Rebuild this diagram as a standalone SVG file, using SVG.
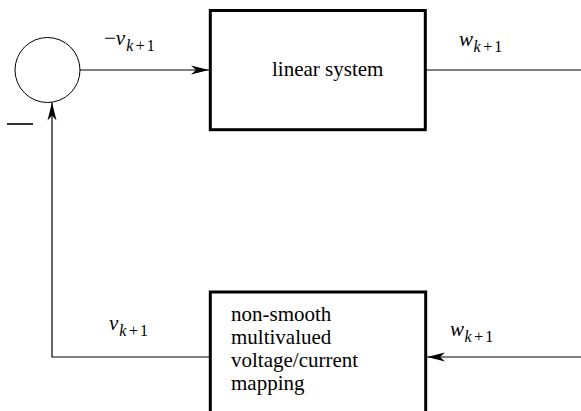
<svg xmlns="http://www.w3.org/2000/svg" width="581" height="411" viewBox="0 0 581 411">
<style>
.box{fill:#fff;stroke:#000;stroke-width:3}
.wire{fill:none;stroke:#000;stroke-width:1.2}
text{font-family:'Liberation Serif','DejaVu Serif',serif;fill:#000}
.t{font-size:21px}
.m{font-size:21px}
.i{font-style:italic}
.s{font-size:16px}
</style>
<defs>
<marker id="arr" viewBox="-18 -5 19 10" refX="0" refY="0" markerWidth="19" markerHeight="10" markerUnits="userSpaceOnUse" orient="auto">
<path d="M0,0 L-18,-4.5 L-13,0 L-18,4.5 Z" fill="#000"/>
</marker>
</defs>
<rect width="581" height="411" fill="#fff"/>
<g id="connectors">
<line class="wire" x1="80" y1="70" x2="209" y2="70" marker-end="url(#arr)"/>
<line class="wire" x1="425" y1="70" x2="581" y2="70"/>
<line class="wire" x1="581" y1="357" x2="427" y2="357" marker-end="url(#arr)"/>
<polyline class="wire" points="209,357 52,357 52,102.5" marker-end="url(#arr)"/>
</g>
<g id="sum">
<circle cx="47.5" cy="70" r="32.5" fill="none" stroke="#000" stroke-width="1"/>
<line x1="7" y1="124" x2="33" y2="124" stroke="#000" stroke-width="1.6"/>
</g>
<g id="linear-system">
<rect class="box" x="210.3" y="10.5" width="215" height="119.2"/>
<text class="t" x="272" y="76">linear system</text>
</g>
<g id="mapping">
<rect class="box" x="210.3" y="292" width="215.4" height="130"/>
<text class="t" x="231" y="321">non-smooth</text>
<text class="t" x="231" y="344">multivalued</text>
<text class="t" x="231" y="367">voltage/current</text>
<text class="t" x="231" y="390">mapping</text>
</g>
<g id="labels">
<text class="m" x="104" y="45">−<tspan class="i">v</tspan><tspan class="i s" dx="1" dy="6">k</tspan><tspan class="s" dx="2.5">+</tspan><tspan class="s" dx="2">1</tspan></text>
<text class="m" x="459" y="46"><tspan class="i">w</tspan><tspan class="i s" dx="0.5" dy="6">k</tspan><tspan class="s" dx="2.5">+</tspan><tspan class="s" dx="2">1</tspan></text>
<text class="m" x="109" y="330"><tspan class="i">v</tspan><tspan class="i s" dx="1" dy="6">k</tspan><tspan class="s" dx="2.5">+</tspan><tspan class="s" dx="2">1</tspan></text>
<text class="m" x="450" y="336"><tspan class="i">w</tspan><tspan class="i s" dx="0.5" dy="6">k</tspan><tspan class="s" dx="2.5">+</tspan><tspan class="s" dx="2">1</tspan></text>
</g>
</svg>
